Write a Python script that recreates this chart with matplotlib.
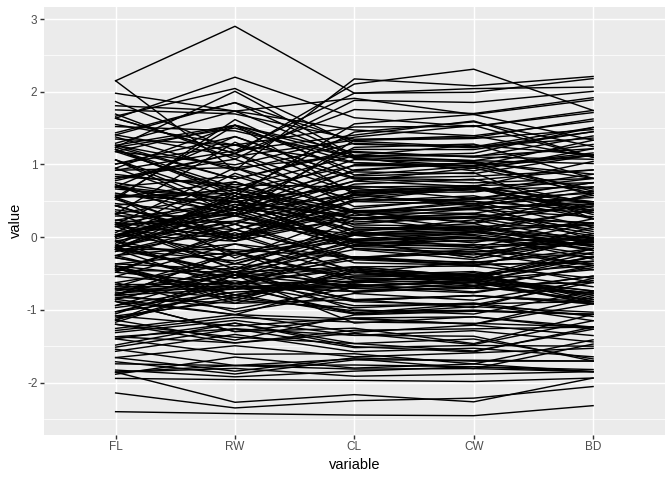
import numpy as np
import matplotlib
matplotlib.use("Agg")
import matplotlib.pyplot as plt

plt.rcParams['font.family'] = ['Liberation Sans', 'DejaVu Sans']
plt.rcParams['axes.unicode_minus'] = False

variables = ["FL", "RW", "CL", "CW", "BD"]

# one entry per line, measurements before standardising
fl = [8.1,8.8,9.2,9.6,9.8,10.8,11.1,11.6,11.8,11.8,12.2,12.3,12.6,12.8,12.8,12.9,13.1,13.1,13.3,13.9,14.3,14.6,15.0,15.0,15.0,15.2,15.4,15.7,15.9,16.1,16.1,16.2,16.3,16.4,16.6,16.8,16.9,17.1,17.1,17.2,17.7,17.9,18.0,18.8,19.3,19.3,19.7,19.8,19.8,21.3,
	7.2,9.0,9.1,9.1,9.5,9.8,10.1,10.3,10.4,10.8,11.0,11.2,11.5,11.6,11.6,11.7,11.9,12.0,12.0,12.3,12.6,12.8,12.8,12.8,13.0,13.1,13.2,13.4,13.7,13.9,14.7,14.9,15.0,15.0,15.1,15.1,15.1,15.2,15.3,15.4,15.5,15.6,15.6,15.7,15.8,16.2,16.4,16.7,17.4,17.5,
	9.1,10.2,10.7,11.4,12.5,12.5,12.7,13.2,13.4,13.7,14.0,14.1,14.1,14.1,14.2,14.2,14.2,14.6,14.7,15.1,15.1,15.4,15.7,16.2,16.3,16.7,17.1,17.4,17.5,17.5,17.6,18.0,18.0,18.1,18.1,18.2,18.9,19.3,19.7,19.8,19.9,20.0,20.0,20.4,20.5,21.0,21.3,21.5,22.1,23.1,
	10.7,11.4,12.5,12.6,12.9,14.0,14.0,14.3,14.7,14.9,15.0,15.6,15.6,15.6,15.7,16.1,16.1,16.2,16.7,17.1,17.5,17.5,17.5,17.6,18.0,18.0,18.3,18.4,18.4,18.5,18.6,18.8,18.9,19.1,19.1,19.7,19.9,19.9,20.0,20.1,20.3,20.5,20.6,20.9,21.3,21.4,21.7,21.9,22.5,23.1]
rw = [6.7,7.7,7.8,7.9,8.0,9.0,9.9,9.1,9.6,10.5,10.8,11.0,10.0,10.2,10.9,11.0,10.6,10.9,11.1,11.1,11.6,11.3,10.9,11.5,11.9,12.1,11.8,12.6,12.7,11.6,12.8,13.3,12.7,13.0,13.5,12.8,13.2,12.6,12.7,13.5,13.6,14.1,13.7,15.8,13.5,13.8,15.3,14.2,14.3,15.7,
	6.5,8.5,8.1,8.2,8.2,8.9,9.3,9.5,9.7,9.5,9.8,10.0,11.0,11.0,11.4,10.6,11.4,10.7,11.1,11.5,11.5,11.7,12.2,12.2,11.4,11.5,12.2,11.8,12.5,13.0,12.5,13.2,13.8,14.2,13.3,13.5,13.8,14.3,14.2,13.3,13.8,13.9,14.7,13.9,15.0,15.2,14.0,16.1,16.9,16.7,
	6.9,8.2,8.6,9.0,9.4,9.4,10.4,11.0,10.1,11.0,11.5,10.4,10.5,10.7,10.6,10.7,11.3,11.3,11.1,11.4,11.5,11.1,12.2,11.8,11.6,12.2,12.6,12.8,12.0,12.7,14.0,13.7,14.1,13.0,13.5,14.0,13.7,14.1,14.4,14.5,14.8,15.2,14.8,15.1,15.6,16.0,15.7,15.5,15.8,15.1,
	9.7,9.2,10.0,11.5,11.2,12.8,12.9,12.2,13.2,13.0,12.3,13.5,14.0,14.1,13.6,13.6,13.7,14.0,14.3,14.5,14.3,14.4,14.7,14.0,14.9,16.3,15.7,15.5,15.7,14.6,14.5,15.2,16.7,16.0,16.3,16.7,16.6,17.9,16.7,17.2,16.0,17.5,17.5,16.5,18.4,18.0,17.1,17.2,17.2,20.2]
cl = [16.1,18.1,19.0,20.1,20.3,23.0,23.8,24.5,24.2,25.2,27.3,26.8,27.7,27.2,27.4,26.8,28.2,28.3,27.8,29.2,31.3,31.9,31.4,32.4,32.5,32.3,33.0,35.8,34.0,33.8,34.9,36.0,35.6,35.7,38.1,36.2,37.3,36.4,36.7,37.6,38.7,39.7,39.2,42.1,41.6,40.9,41.9,43.2,42.4,47.1,
	14.7,19.3,18.5,19.2,19.6,20.4,20.9,21.3,21.7,22.5,22.5,22.8,24.7,24.6,23.7,24.9,26.0,24.6,25.4,25.9,25.9,27.1,26.7,27.9,27.3,27.6,27.9,28.4,28.6,30.0,30.1,30.1,31.7,32.8,31.8,31.9,31.7,33.9,32.6,32.4,33.4,32.8,33.9,33.6,34.5,34.5,34.2,36.6,38.2,38.6,
	16.7,20.2,20.7,22.7,23.2,24.2,26.0,27.1,26.6,27.5,29.2,28.9,29.1,28.7,28.7,27.8,29.2,29.9,29.0,30.2,30.9,30.2,31.7,32.3,31.6,32.6,34.0,34.7,34.4,34.6,34.0,36.2,36.9,36.3,36.5,37.1,37.6,38.5,39.1,40.1,40.5,40.1,40.7,41.3,41.6,42.9,44.6,45.5,46.2,47.6,
	21.4,21.7,24.1,25.0,25.8,28.8,28.7,28.1,29.6,30.0,30.1,31.2,31.6,31.0,31.0,31.6,31.4,31.6,32.3,33.1,34.5,34.5,33.3,34.0,34.7,37.9,35.1,35.6,36.5,37.0,34.7,35.8,36.3,37.8,37.9,39.9,39.4,40.1,40.4,39.8,39.4,40.0,41.5,39.9,43.8,41.2,41.7,42.6,45.7,46.2]
cw = [19.0,20.8,22.4,23.1,23.0,26.5,27.1,28.4,27.8,29.3,31.6,31.5,31.7,31.8,31.5,30.9,32.3,32.4,32.3,33.3,35.5,36.4,36.4,37.0,37.2,36.7,37.5,40.3,38.9,39.0,40.7,41.7,40.9,41.8,43.4,41.8,42.7,42.0,41.9,43.9,44.5,44.6,44.4,49.0,47.4,46.5,48.5,49.7,48.9,54.6,
	17.1,22.7,21.6,22.2,22.4,23.9,24.4,24.7,25.4,26.3,25.7,26.9,29.2,28.5,27.8,28.5,30.1,28.9,29.2,30.1,30.1,31.2,31.1,31.9,31.8,32.6,32.1,32.7,33.8,34.9,34.7,35.1,36.9,37.4,36.3,37.0,36.6,38.5,38.3,37.6,38.7,37.9,39.5,38.5,40.3,40.1,39.8,41.9,44.1,44.5,
	18.6,22.2,22.7,24.8,24.9,27.0,28.8,30.4,29.6,30.5,32.2,31.8,31.6,31.9,31.7,30.9,32.2,33.5,32.1,33.3,34.0,33.6,34.2,35.3,34.2,35.8,37.0,37.9,37.3,38.0,38.6,40.0,40.6,39.8,41.3,41.4,41.9,43.3,44.2,44.7,45.1,45.2,45.9,46.1,47.1,48.4,49.8,51.0,52.1,52.8,
	24.0,24.1,27.0,28.1,29.1,32.4,31.2,31.8,33.4,33.7,33.3,35.1,35.3,34.5,34.8,36.0,36.1,35.6,37.0,37.2,39.6,39.0,37.6,38.6,39.5,43.0,40.5,40.0,41.6,42.0,39.4,40.5,41.7,42.3,42.6,43.6,43.9,46.4,45.1,44.1,44.1,45.5,46.2,44.7,48.4,46.2,47.2,47.4,49.7,52.5]
bd = [7.0,7.4,7.7,8.2,8.2,9.8,9.8,10.4,9.7,10.3,10.9,11.4,11.4,10.9,11.0,11.4,11.0,11.2,11.3,12.1,12.7,13.7,13.2,13.4,13.6,13.6,13.6,14.5,14.2,14.4,15.7,15.4,14.9,15.2,14.9,14.9,15.6,15.1,15.6,16.1,16.0,16.8,16.2,17.8,17.8,16.8,17.8,18.6,18.3,20.0,
	6.1,7.7,7.7,7.7,7.8,8.8,8.4,8.9,8.3,9.1,8.2,9.4,10.1,10.4,9.8,10.4,10.9,10.5,11.0,11.0,10.9,11.9,11.1,11.5,11.3,11.1,11.5,11.7,11.9,13.1,12.5,12.7,14.0,14.0,13.5,13.8,13.0,14.7,13.8,13.8,14.7,13.4,14.3,14.1,15.3,13.9,15.2,15.7,16.3,17.0,
	7.4,9.0,9.2,10.1,10.4,11.2,12.1,12.2,12.0,12.2,13.1,13.5,13.1,13.3,12.9,12.7,13.5,12.8,13.1,14.0,13.9,13.5,14.2,14.7,14.5,14.9,15.3,15.6,15.3,16.1,15.5,16.4,16.6,16.2,16.8,17.0,17.6,17.9,17.9,18.4,18.8,18.2,19.0,19.0,19.1,19.9,20.6,20.9,21.5,21.6,
	9.8,9.7,10.9,11.5,11.9,12.7,12.6,12.5,12.9,13.3,14.0,14.1,13.8,13.8,13.8,14.0,13.9,13.7,14.7,14.6,15.6,16.0,14.6,15.5,15.7,17.2,16.1,15.9,16.4,16.6,15.0,16.6,15.3,16.8,17.2,18.2,17.9,17.9,17.7,18.6,18.0,19.2,19.2,17.5,20.0,18.7,19.6,19.5,20.5,21.1]

# centre and spread of each column, fitted to the extremes on the value axis
centre = [15.583, 12.739, 32.106, 36.415, 14.031]
spread = [3.495, 2.573, 7.119, 7.872, 3.425]

y_ticks = [-2, -1, 0, 1, 2, 3]
y_minor = [-2.5, -1.5, -0.5, 0.5, 1.5, 2.5]

table = np.array([fl, rw, cl, cw, bd], dtype=float)
table = (table - np.array(centre)[:, None]) / np.array(spread)[:, None]

fig = plt.figure(figsize=(7, 5), dpi=96)
ax = fig.add_axes([44/672, 1-434.7/480, 620.7/672, 427.7/480])
ax.set_facecolor("#EBEBEB")

for i in range(table.shape[1]):
	ax.plot(range(len(variables)), table[:, i], color="black", lw=1.07, solid_joinstyle="round", zorder=3)

ax.set_xlim(-0.6, len(variables) - 1 + 0.6)
ax.set_ylim(-2.715, 3.165)

ax.set_xticks(range(len(variables)))
ax.set_xticklabels(variables)
ax.set_yticks(y_ticks)
ax.set_yticks(y_minor, minor=True)
ax.grid(True, which="major", color="white", lw=1.07, zorder=1)
ax.grid(True, which="minor", axis="y", color="white", lw=0.53, zorder=1)
ax.set_axisbelow(True)
ax.tick_params(which="major", length=2.75, width=1.07, color="#333333", labelcolor="#4D4D4D", labelsize=8.8, pad=2.2)
ax.tick_params(which="minor", length=0)
for s in ax.spines.values():
	s.set_visible(False)

ax.set_xlabel("variable", fontsize=11, labelpad=3.5)
ax.set_ylabel("value", fontsize=11, labelpad=3)

fig.savefig("out.png", dpi=96)
